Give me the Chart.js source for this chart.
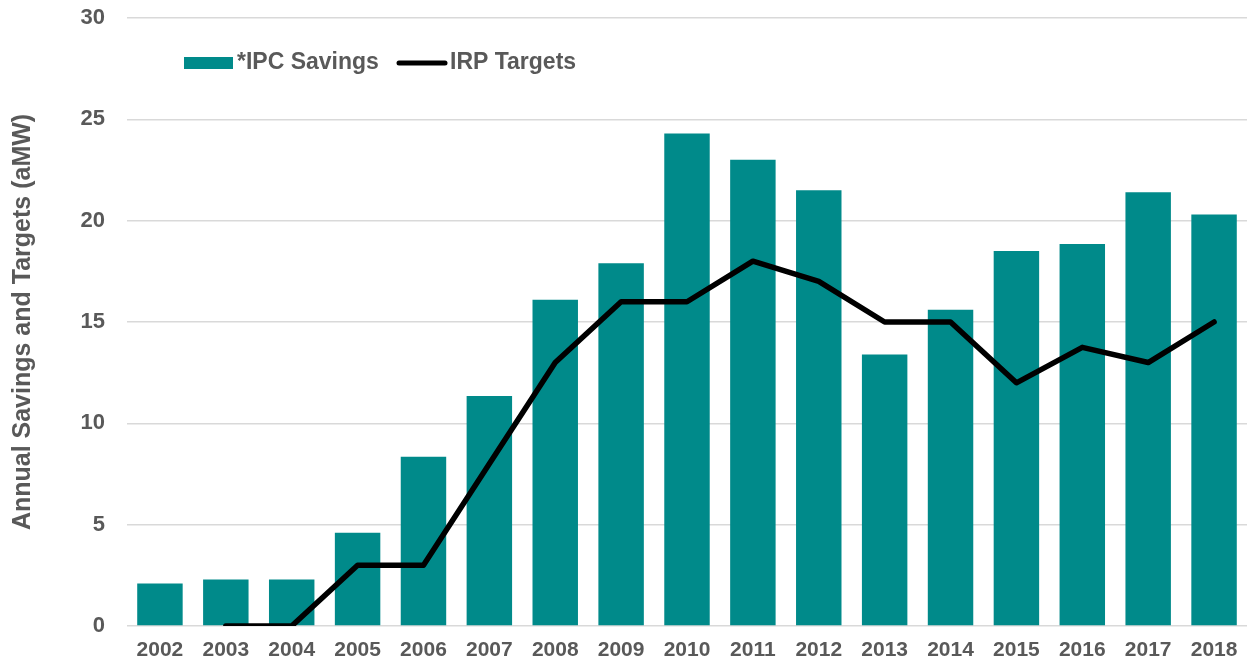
<!DOCTYPE html>
<html>
<head>
<meta charset="utf-8">
<script src="https://cdn.jsdelivr.net/npm/chart.js@4/dist/chart.umd.min.js"></script>
<style>
  html, body { margin: 0; padding: 0; background: #fff; }
  #wrap { width: 1252px; height: 666px; position: relative; }
</style>
</head>
<body>
<div id="wrap"><canvas id="chart"></canvas></div>
<script>
// data
const years = ['2002','2003','2004','2005','2006','2007','2008','2009','2010','2011','2012','2013','2014','2015','2016','2017','2018'];
const ipcSavings = [2.1, 2.3, 2.3, 4.6, 8.35, 11.35, 16.1, 17.9, 24.3, 23.0, 21.5, 13.4, 15.6, 18.5, 18.85, 21.4, 20.3];
const irpTargets = [null, 0, 0, 3, 3, 8, 13, 16, 16, 18, 17, 15, 15, 12, 13.75, 13, 15];
const yTicks = [0, 5, 10, 15, 20, 25, 30];

const teal = '#008a8a';
const textGray = '#595959';
const font = 'Arial, "Liberation Sans", sans-serif';

// legend sits inside the plot area, near the top left
const insideLegend = {
    id: 'insideLegend',
    afterDraw(chart) {
        const c = chart.ctx;
        const bars = chart.data.datasets.find(d => d.type === 'bar');
        const line = chart.data.datasets.find(d => d.type === 'line');
        c.save();
        c.font = 'bold 23px ' + font;
        c.textBaseline = 'middle';
        const y = 63;
        c.fillStyle = teal;
        c.fillRect(184, y - 6, 49, 12);
        c.fillStyle = textGray;
        c.fillText(bars.label, 237, y);
        c.strokeStyle = '#000';
        c.lineWidth = 5;
        c.lineCap = 'round';
        c.beginPath();
        c.moveTo(399, y);
        c.lineTo(445, y);
        c.stroke();
        c.fillText(line.label, 450, y);
        c.restore();
    }
};

const ctx = document.getElementById('chart').getContext('2d');
new Chart(ctx, {
    data: {
        labels: years,
        datasets: [
            {
                type: 'line',
                label: 'IRP Targets',
                data: irpTargets,
                borderColor: '#000',
                borderWidth: 5.5,
                borderCapStyle: 'round',
                borderJoinStyle: 'round',
                pointRadius: 0,
                tension: 0,
                fill: false,
                order: 0
            },
            {
                type: 'bar',
                label: '*IPC Savings',
                data: ipcSavings,
                backgroundColor: teal,
                borderWidth: 0,
                categoryPercentage: 1,
                barPercentage: 0.69,
                order: 1
            }
        ]
    },
    options: {
        responsive: true,
        maintainAspectRatio: false,
        animation: false,
        layout: { padding: { top: 18, right: 5, left: 8, bottom: 0 } },
        plugins: {
            legend: { display: false },
            tooltip: { enabled: false }
        },
        scales: {
            x: {
                grid: { display: false },
                border: { display: false },
                ticks: {
                    color: textGray,
                    font: { family: font, size: 21, weight: 'bold' },
                    padding: 4,
                    maxRotation: 0,
                    autoSkip: false
                },
                afterFit: s => { s.height = 40; }
            },
            y: {
                min: 0,
                max: 30,
                afterBuildTicks: s => { s.ticks = yTicks.map(v => ({ value: v })); },
                grid: { color: '#d9d9d9', lineWidth: 1.5, drawTicks: false },
                border: { display: false },
                ticks: {
                    color: textGray,
                    font: { family: font, size: 22, weight: 'bold' },
                    padding: 22
                },
                title: {
                    display: true,
                    text: 'Annual Savings and Targets (aMW)',
                    color: textGray,
                    font: { family: font, size: 25, weight: 'bold' },
                    padding: { top: 0, bottom: 0 }
                },
                afterFit: s => {
                    s.width = 119;
                    s.paddingTop = 0;
                    s.paddingBottom = 0;
                }
            }
        }
    },
    plugins: [insideLegend]
});
</script>
</body>
</html>
